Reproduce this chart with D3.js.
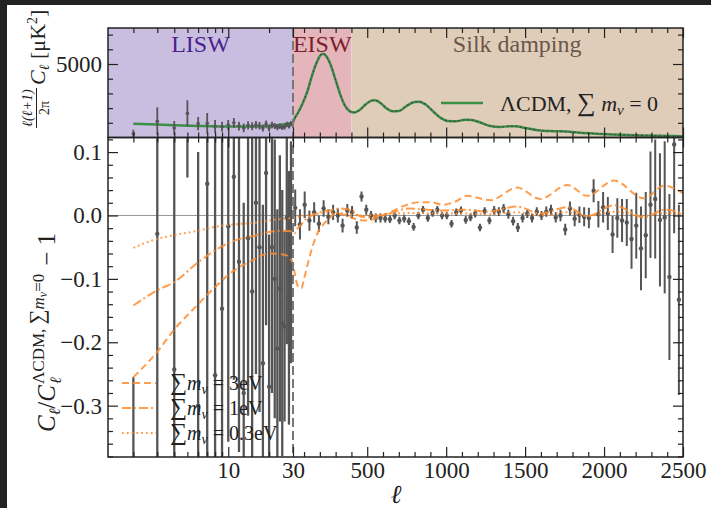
<!DOCTYPE html>
<html>
<head>
<meta charset="utf-8" />
<script src="https://cdn.jsdelivr.net/npm/d3@7"></script>
<style>body{margin:0;background:#fff}</style>
</head>
<body>
<script>
// ---------- data ----------
// low-l individual multipoles
var ellLow = [2,3,4,5,6,7,8,9,10,11,12,13,14,15,16,17,18,19,20,21,22,23,24,25,26,27,28,29];
var resLow = [-0.70,-0.029,-0.243,0.50,-0.30,0.05,-0.252,-0.147,-0.017,0.061,-0.073,-0.28,-0.036,-0.12,
              0.02,-0.05,-0.233,0.067,-0.27,-0.05,-0.10,-0.21,-0.115,-0.17,-0.175,-0.003,-0.13,-0.058];
var resLowErr = [0.445,0.55,0.50,0.44,0.40,0.50,0.42,0.36,0.34,0.32,0.30,0.30,0.28,0.27,
                 0.27,0.26,0.25,0.24,0.24,0.23,0.22,0.22,0.21,0.21,0.15,0.20,0.20,0.175];
var dlLow = [250,1110,650,1640,950,965,740,735,850,1000,780,650,830,760,
             860,800,650,920,640,850,780,700,760,700,720,900,780,940];
var dlLowErr = [280,940,480,900,450,700,450,340,340,330,300,300,280,270,
                260,250,240,240,230,220,210,200,190,190,180,180,170,170];

// binned high-l residuals
var ellBin = [44,74,104,134,164,194,224,254,284,314,344,374,404,434,464,494,524,554,584,614,
              644,674,704,734,764,794,824,854,884,914,944,974,1004,1034,1064,1094,1124,1154,1184,1214,
              1244,1274,1304,1334,1364,1394,1424,1454,1484,1514,1544,1574,1604,1634,1664,1694,1724,1754,1784,1814,
              1844,1874,1904,1934,1964,1994,2024,2054,2084,2114,2144,2174,2204,2234,2264,2294,2324,2354,2384,2414,
              2444,2474];
var resBin = [0.012,-0.014,0.017,-0.008,0.005,-0.013,0.011,-0.002,0.005,0.000,
              -0.016,0.008,0.005,-0.019,0.030,0.009,0.000,-0.004,-0.004,-0.005,
              -0.006,0.000,-0.008,-0.005,-0.009,-0.018,0.000,0.009,-0.004,0.004,
              0.009,0.000,0.000,-0.013,0.005,0.008,-0.007,-0.003,0.003,-0.019,
              0.007,-0.008,0.008,0.006,
              0.011,0.002,-0.009,-0.019,-0.004,0.003,-0.004,0.006,0.000,0.006,
              0.009,-0.003,0.000,-0.022,0.011,-0.005,0.001,-0.002,-0.004,0.039,
              0.002,0.013,0.003,-0.030,-0.004,-0.008,-0.011,-0.037,-0.016,-0.052,
              -0.031,0.017,0.026,-0.007,-0.003,-0.097,0.112,-0.133];
var resBinErr = [0.029,0.024,0.021,0.016,0.016,0.013,0.013,0.012,0.012,0.011,
                 0.011,0.010,0.010,0.010,0.008,0.008,0.007,0.007,0.007,0.006,
                 0.006,0.006,0.006,0.006,0.006,0.006,0.006,0.006,0.006,0.006,
                 0.006,0.006,0.006,0.006,0.006,0.006,0.006,0.006,0.006,0.006,
                 0.006,0.006,0.007,0.007,0.007,0.007,0.007,0.007,0.007,0.007,
                 0.007,0.007,0.007,0.008,0.008,0.008,0.009,0.009,0.011,0.012,
                 0.013,0.015,0.016,0.018,0.021,0.024,0.026,0.029,0.031,0.034,
                 0.037,0.047,0.052,0.066,0.068,0.084,0.094,0.105,0.12,0.131,
                 0.14,0.15];

// LCDM model D_l [muK^2]
var ellModel = [2,3,4,6,10,15,20,25,30,40,60,90,120,150,180,200,220,240,270,300,330,360,390,420,450,490,530,550,580,620,
                660,700,750,800,830,870,920,970,1010,1060,1120,1160,1220,1280,1340,1400,1440,1500,1580,1680,1760,1850,1950,2050,2150,2250,2350,2450,2500];
var dlModel = [930,880,840,790,750,750,790,880,1050,1300,1650,2300,3100,4200,5100,5550,5700,5550,4900,3900,2900,2150,1780,1700,1850,2250,2520,2530,2380,2000,
               1780,1800,2150,2420,2440,2250,1750,1300,1120,1100,1200,1190,1000,780,720,760,760,650,500,430,400,320,260,210,170,140,115,95,85];

// massive-neutrino residual curves
var ell3eV = [2,3,4,6,8,11,15,20,26,30,40,55,70,83,100,125,155,185,210,240,263,300,370,430,500,560,644,740,835,900,980,1060,1132,1280,1449,1597,1767,1894,2063,2253,2381,2500];
var res3eV = [-0.255,-0.215,-0.18,-0.14,-0.113,-0.087,-0.071,-0.06,-0.062,-0.075,-0.09,-0.108,-0.114,-0.115,-0.1,-0.075,-0.048,-0.028,-0.018,-0.009,-0.004,0.003,0.0,-0.006,-0.008,-0.004,0.005,0.016,0.021,0.021,0.017,0.022,0.031,0.024,0.044,0.026,0.048,0.031,0.055,0.027,0.047,0.035];
var ell1eV = [2,3,4,6,8,11,15,20,26,30,40,55,83,110,150,200,260,330,400,460,520,600,650,760,835,960,1130,1260,1449,1597,1767,1894,2063,2253,2381,2500];
var res1eV = [-0.142,-0.118,-0.105,-0.074,-0.055,-0.04,-0.033,-0.026,-0.024,-0.026,-0.028,-0.022,-0.014,-0.006,0.0,0.005,0.008,0.011,0.008,-0.002,-0.003,0.002,0.004,0.011,0.01,0.008,0.009,0.006,0.014,0.003,0.013,-0.001,0.016,-0.003,0.009,0.003];
var ell03eV = [2,3,4,6,8,11,15,20,26,30,50,100,200,330,450,600,800,1000,1130,1260,1449,1597,1767,1894,2063,2253,2381,2500];
var res03eV = [-0.051,-0.037,-0.031,-0.024,-0.018,-0.014,-0.012,-0.008,-0.005,-0.004,-0.003,0.0,0.003,0.004,0.0,0.002,0.004,0.003,0.003,0.002,0.005,0.0,0.005,-0.001,0.006,-0.001,0.004,0.002];

// ticks and labels
var xTicksLog = [10, 30];
var xTicksLin = [500, 1000, 1500, 2000, 2500];
var yTicksTop = [5000];
var yTicksBot = [0.1, 0.0, -0.1, -0.2, -0.3];
var regionNames = ["LISW", "EISW", "Silk damping"];
var regionEdges = [1.3, 30, 400, 2500];
var regionFill = ["#c9bee0", "#e4b6bb", "#dfcdb9"];
var regionText = ["#4b1f8c", "#7d1d2c", "#6b564a"];
var nuLabels = ["3eV", "1eV", "0.3eV"];

// ---------- layout ----------
var W = 711, H = 508;
var L = 108, R = 683, T1 = 28, B1 = 137.5, B2 = 457;
var serif = "Liberation Serif, Times New Roman, serif";
var ink = "#222";
var orange = "#ff8c2e";

var svg = d3.select("body").append("svg").attr("width", W).attr("height", H);
svg.append("rect").attr("width", W).attr("height", H).attr("fill", "#fff");
svg.append("rect").attr("x", 0).attr("y", 0).attr("width", W).attr("height", 5).attr("fill", "#222");
svg.append("rect").attr("x", 0).attr("y", 0).attr("width", 7).attr("height", H).attr("fill", "#222");

var xLog = d3.scaleLog().domain([1.3, 30]).range([L, 293]);
var xLin = d3.scaleLinear().domain([30, 2500]).range([293, R]);
function x(l) { return l <= 30 ? xLog(l) : xLin(l); }
var yTop = d3.scaleLinear().domain([0, 7450]).range([B1, T1]);
var yBot = d3.scaleLinear().domain([-0.381, 0.123]).range([B2, B1]);

var defs = svg.append("defs");
defs.append("clipPath").attr("id", "cTop").append("rect")
  .attr("x", L).attr("y", T1).attr("width", R - L).attr("height", B1 - T1);
defs.append("clipPath").attr("id", "cBot").append("rect")
  .attr("x", L).attr("y", B1).attr("width", R - L).attr("height", B2 - B1);

// ---------- top panel ----------
var gTop = svg.append("g").attr("clip-path", "url(#cTop)");
gTop.selectAll("rect.reg").data(regionNames).enter().append("rect")
  .attr("x", function (d, i) { return x(regionEdges[i]); })
  .attr("width", function (d, i) { return x(regionEdges[i + 1]) - x(regionEdges[i]); })
  .attr("y", T1).attr("height", B1 - T1)
  .attr("fill", function (d, i) { return regionFill[i]; });

svg.selectAll("text.reg").data(regionNames).enter().append("text")
  .attr("x", function (d, i) { return (x(regionEdges[i]) + x(regionEdges[i + 1])) / 2; })
  .attr("y", 52).attr("text-anchor", "middle")
  .attr("font-family", serif).attr("font-size", 24)
  .attr("fill", function (d, i) { return regionText[i]; })
  .text(function (d) { return d; });

var model = ellModel.map(function (l, i) { return { l: l, v: dlModel[i] }; });
var lineTop = d3.line().x(function (d) { return x(d.l); }).y(function (d) { return yTop(d.v); }).curve(d3.curveMonotoneX);
gTop.append("path").attr("d", lineTop(model)).attr("fill", "none").attr("stroke", "#3a8f47").attr("stroke-width", 2.5);
gTop.append("path").attr("d", lineTop(model.filter(function (d) { return d.l >= 30; })))
  .attr("fill", "none").attr("stroke", "#4a4a4a").attr("stroke-width", 1.2).attr("stroke-dasharray", "2,2.5");

var lowTop = ellLow.map(function (l, i) { return { l: l, v: dlLow[i], e: dlLowErr[i] }; });
gTop.selectAll("line.eb").data(lowTop).enter().append("line")
  .attr("x1", function (d) { return x(d.l); }).attr("x2", function (d) { return x(d.l); })
  .attr("y1", function (d) { return yTop(d.v - d.e); }).attr("y2", function (d) { return yTop(d.v + d.e); })
  .attr("stroke", "#555").attr("stroke-width", 1.8);
gTop.selectAll("circle.pt").data(lowTop).enter().append("circle")
  .attr("cx", function (d) { return x(d.l); }).attr("cy", function (d) { return yTop(d.v); })
  .attr("r", 1.8).attr("fill", "#555");

// ---------- bottom panel ----------
var gBot = svg.append("g").attr("clip-path", "url(#cBot)");
gBot.append("line").attr("x1", L).attr("x2", R).attr("y1", yBot(0)).attr("y2", yBot(0))
  .attr("stroke", "#999").attr("stroke-width", 1);

var pts = ellLow.map(function (l, i) { return { l: l, v: resLow[i], e: resLowErr[i], w: 2.3 }; })
  .concat(ellBin.map(function (l, i) { return { l: l, v: resBin[i], e: resBinErr[i], w: 2 }; }));
gBot.selectAll("line.eb").data(pts).enter().append("line")
  .attr("x1", function (d) { return x(d.l); }).attr("x2", function (d) { return x(d.l); })
  .attr("y1", function (d) { return yBot(d.v - d.e); }).attr("y2", function (d) { return yBot(d.v + d.e); })
  .attr("stroke", "#555").attr("stroke-width", function (d) { return d.w; });
gBot.selectAll("circle.pt").data(pts).enter().append("circle")
  .attr("cx", function (d) { return x(d.l); }).attr("cy", function (d) { return yBot(d.v); })
  .attr("r", 2.2).attr("fill", "#555");

var lineBot = d3.line().x(function (d) { return x(d.l); }).y(function (d) { return yBot(d.v); }).curve(d3.curveMonotoneX);
var curves = [
  { l: ell3eV, v: res3eV, dash: "7,4" },
  { l: ell1eV, v: res1eV, dash: "9,3,2,3" },
  { l: ell03eV, v: res03eV, dash: "1.8,3" }
];
curves.forEach(function (c) {
  gBot.append("path").attr("d", lineBot(c.l.map(function (l, i) { return { l: l, v: c.v[i] }; })))
    .attr("fill", "none").attr("stroke", orange).attr("stroke-opacity", 0.85)
    .attr("stroke-width", 2).attr("stroke-dasharray", c.dash);
});

// vertical boundary at l = 30
svg.append("line").attr("x1", x(30)).attr("x2", x(30)).attr("y1", T1).attr("y2", B2)
  .attr("stroke", "#777").attr("stroke-width", 2).attr("stroke-dasharray", "9,4");

// ---------- axes ----------
function styleAxis(g) {
  g.select(".domain").remove();
  g.attr("font-family", serif).attr("font-size", 23);
  g.selectAll("line").attr("stroke", ink).attr("stroke-width", 1.2);
  g.selectAll("text").attr("fill", ink);
}
var logMinor = [2,3,4,5,6,7,8,9,20];
var linMinor = d3.range(100, 2500, 100).filter(function (v) { return v % 500 !== 0; });
function xAxis(yPos, bottom, labels) {
  var mk = bottom ? d3.axisBottom : d3.axisTop;
  [[xLog, xTicksLog, 10, true], [xLog, logMinor, 5, false], [xLin, xTicksLin, 10, true], [xLin, linMinor, 5, false]]
    .forEach(function (s) {
      var a = mk(s[0]).tickValues(s[1]).tickSize(-s[2]).tickPadding(5)
        .tickFormat(labels && s[3] ? d3.format("d") : "");
      svg.append("g").attr("transform", "translate(0," + yPos + ")").call(a).call(styleAxis);
    });
}
function yAxis(scale, major, minor, fmt) {
  svg.append("g").attr("transform", "translate(" + L + ",0)")
    .call(d3.axisLeft(scale).tickValues(major).tickSize(-10).tickPadding(6).tickFormat(fmt)).call(styleAxis);
  svg.append("g").attr("transform", "translate(" + L + ",0)")
    .call(d3.axisLeft(scale).tickValues(minor).tickSize(-5).tickFormat("")).call(styleAxis);
  svg.append("g").attr("transform", "translate(" + R + ",0)")
    .call(d3.axisRight(scale).tickValues(major).tickSize(-10).tickFormat("")).call(styleAxis);
  svg.append("g").attr("transform", "translate(" + R + ",0)")
    .call(d3.axisRight(scale).tickValues(minor).tickSize(-5).tickFormat("")).call(styleAxis);
}
xAxis(T1, false, false);
xAxis(B1, true, false);
xAxis(B1, false, false);
xAxis(B2, true, true);
yAxis(yTop, yTicksTop, [1000, 2000, 3000, 4000, 6000, 7000], d3.format("d"));
yAxis(yBot, yTicksBot, d3.range(-0.38, 0.121, 0.02).filter(function (v) { return Math.abs(v * 10 - Math.round(v * 10)) > 0.01; }),
  d3.format(".1f"));

[[T1, B1], [B1, B2]].forEach(function (p) {
  svg.append("rect").attr("x", L).attr("y", p[0]).attr("width", R - L).attr("height", p[1] - p[0])
    .attr("fill", "none").attr("stroke", ink).attr("stroke-width", 1.5);
});

// ---------- legends ----------
svg.append("line").attr("x1", 441).attr("x2", 483).attr("y1", 103).attr("y2", 103)
  .attr("stroke", "#3a8f47").attr("stroke-width", 2.5);
var lt = svg.append("text").attr("x", 500).attr("y", 111).attr("font-family", serif).attr("font-size", 22).attr("fill", ink);
lt.append("tspan").text("ΛCDM, ");
lt.append("tspan").attr("font-size", 26).text("∑");
lt.append("tspan").attr("font-style", "italic").text(" m");
lt.append("tspan").attr("font-style", "italic").attr("font-size", 15).attr("dy", 4).text("ν");
lt.append("tspan").attr("dy", -4).text(" = 0");

curves.forEach(function (c, i) {
  var yy = 383 + i * 25;
  svg.append("line").attr("x1", 122).attr("x2", 156).attr("y1", yy).attr("y2", yy)
    .attr("stroke", orange).attr("stroke-opacity", 0.85).attr("stroke-width", 2).attr("stroke-dasharray", c.dash);
  var t = svg.append("text").attr("x", 170).attr("y", yy + 7).attr("font-family", serif).attr("font-size", 20).attr("fill", ink);
  t.append("tspan").attr("font-size", 24).text("∑");
  t.append("tspan").attr("font-style", "italic").text("m");
  t.append("tspan").attr("font-style", "italic").attr("font-size", 14).attr("dy", 4).text("ν");
  t.append("tspan").attr("dy", -4).text(" = " + nuLabels[i]);
});

// ---------- axis labels ----------
svg.append("text").attr("x", 396).attr("y", 503).attr("text-anchor", "middle")
  .attr("font-family", serif).attr("font-style", "italic").attr("font-size", 26).attr("fill", ink).text("ℓ");

var rot = svg.append("g").attr("transform", "rotate(-90)").attr("font-family", serif).attr("fill", ink);
// top label: l(l+1)/2pi C_l [muK^2]
rot.append("text").attr("x", -108).attr("y", 32).attr("text-anchor", "middle").attr("font-size", 14).attr("font-style", "italic").text("ℓ(ℓ+1)");
rot.append("line").attr("x1", -128).attr("x2", -88).attr("y1", 36.5).attr("y2", 36.5).attr("stroke", ink).attr("stroke-width", 1);
rot.append("text").attr("x", -108).attr("y", 49).attr("text-anchor", "middle").attr("font-size", 14).text("2π");
var tl = rot.append("text").attr("x", -85).attr("y", 45).attr("font-size", 22);
tl.append("tspan").attr("font-style", "italic").text("C");
tl.append("tspan").attr("font-style", "italic").attr("font-size", 14).attr("dy", 4).text("ℓ");
tl.append("tspan").attr("dy", -4).text(" [μK");
tl.append("tspan").attr("font-size", 14).attr("dy", -8).text("2");
tl.append("tspan").attr("dy", 8).text("]");

// bottom label: C_l / C_l^{LCDM, sum m_nu = 0} - 1
var x0 = -432, base = 55;
var b1 = rot.append("text").attr("x", x0).attr("y", base).attr("font-size", 25);
b1.append("tspan").attr("font-style", "italic").text("C");
b1.append("tspan").attr("font-style", "italic").attr("font-size", 16).attr("dy", 5).text("ℓ");
b1.append("tspan").attr("dy", -5).text("/");
b1.append("tspan").attr("font-style", "italic").text("C");
var e1 = x0 + b1.node().getComputedTextLength() + 1;
rot.append("text").attr("x", e1).attr("y", base + 6).attr("font-size", 16).attr("font-style", "italic").text("ℓ");
var sup = rot.append("text").attr("x", e1).attr("y", base - 11).attr("font-size", 17);
sup.append("tspan").text("ΛCDM, ");
sup.append("tspan").attr("font-size", 21).text("∑");
sup.append("tspan").attr("font-style", "italic").text("m");
sup.append("tspan").attr("font-style", "italic").attr("font-size", 12).attr("dy", 3).text("ν");
sup.append("tspan").attr("dy", -3).text("=0");
var e2 = e1 + sup.node().getComputedTextLength() + 8;
rot.append("text").attr("x", e2).attr("y", base).attr("font-size", 25).text("− 1");
</script>
</body>
</html>
